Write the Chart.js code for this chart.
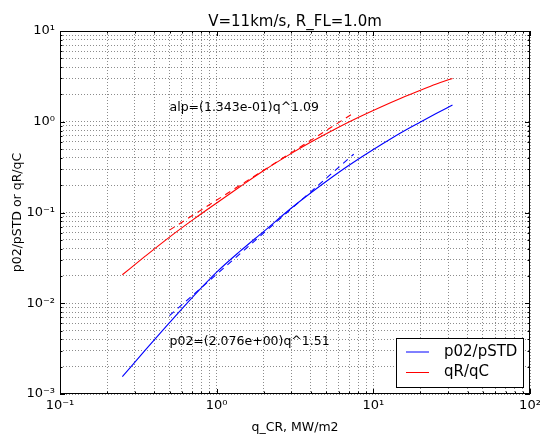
<!DOCTYPE html>
<html>
<head>
<meta charset="utf-8">
<script src="https://cdn.jsdelivr.net/npm/chart.js@4.4.0/dist/chart.umd.min.js"></script>
<style>
  html, body { margin: 0; padding: 0; background: #fff; }
</style>
</head>
<body>
<canvas id="chart" width="540" height="437"></canvas>
<script>
// values (log-log)
const qCurve   = [0.25, 0.35, 0.5, 0.7, 1.0, 1.4, 2.0, 3.0, 4.0, 6.0, 8.0, 11, 15, 20, 25, 32];
const p02Curve = [0.00155, 0.00304, 0.0061, 0.0116, 0.022, 0.037, 0.062, 0.112, 0.165, 0.276, 0.386, 0.547, 0.758, 0.996, 1.226, 1.53];
const qrCurve  = [0.0206, 0.033, 0.0536, 0.0824, 0.1274, 0.1907, 0.29, 0.448, 0.597, 0.87, 1.114, 1.437, 1.814, 2.224, 2.59, 3.0];

// power-law fits (dashed)
const qFit   = [0.5, 7.5];
const p02Fit = [0.0073, 0.44];
const qrFit  = [0.064, 1.25];

const chartTitle = 'V=11km/s, R_FL=1.0m';
const xTitle = 'q_CR, MW/m2';
const yTitle = 'p02/pSTD or qR/qC';
const alpNote = 'alp=(1.343e-01)q^1.09';
const p02Note = 'p02=(2.076e+00)q^1.51';

const xDecades = [0.1, 1, 10, 100];
const xTickLabels = ['10\u207B\u00B9', '10\u2070', '10\u00B9', '10\u00B2'];
const yDecades = [0.001, 0.01, 0.1, 1, 10];
const yTickLabels = ['10\u207B\u00B3', '10\u207B\u00B2', '10\u207B\u00B9', '10\u2070', '10\u00B9'];

const FONT = '"DejaVu Sans", sans-serif';

// decade ticks plus the 2..9 minor ones in between
function withMinor(decades) {
    const out = [];
    decades.forEach((d, i) => {
        out.push(d);
        if (i < decades.length - 1) {
            for (let k = 2; k <= 9; k++) out.push(+(d * k).toPrecision(3));
        }
    });
    return out;
}
const xTicks = withMinor(xDecades);
const yTicks = withMinor(yDecades);

function labelFor(v, decades, labels) {
    const i = decades.findIndex(d => Math.abs(d - v) / d < 1e-6);
    return i >= 0 ? labels[i] : '';
}

const pts = (xs, ys) => xs.map((x, i) => ({ x: x, y: ys[i] }));

// frame, inward ticks, titles, notes and legend (matplotlib look)
const decorations = {
    id: 'decorations',
    afterDraw(chart) {
        const { ctx, chartArea: a, scales } = chart;
        const x = scales.x, y = scales.y;
        ctx.save();

        ctx.strokeStyle = '#000';
        ctx.lineWidth = 1;
        ctx.beginPath();
        xTicks.forEach(v => {
            const px = Math.round(x.getPixelForValue(v)) + 0.5;
            const len = xDecades.includes(v) ? 5 : 2.5;
            ctx.moveTo(px, a.bottom); ctx.lineTo(px, a.bottom - len);
            ctx.moveTo(px, a.top); ctx.lineTo(px, a.top + len);
        });
        yTicks.forEach(v => {
            const py = Math.round(y.getPixelForValue(v)) + 0.5;
            const len = yDecades.includes(v) ? 5 : 2.5;
            ctx.moveTo(a.left, py); ctx.lineTo(a.left + len, py);
            ctx.moveTo(a.right, py); ctx.lineTo(a.right - len, py);
        });
        ctx.stroke();
        ctx.strokeRect(Math.round(a.left) + 0.5, Math.round(a.top) + 0.5,
                       Math.round(a.right - a.left) - 1, Math.round(a.bottom - a.top) - 1);

        ctx.fillStyle = '#000';
        ctx.textAlign = 'center';
        ctx.textBaseline = 'alphabetic';
        ctx.font = '15px ' + FONT;
        ctx.fillText(chartTitle, (a.left + a.right) / 2, 26);
        ctx.font = '12.5px ' + FONT;
        ctx.fillText(xTitle, (a.left + a.right) / 2, 431);

        ctx.save();
        ctx.translate(21, (a.top + a.bottom) / 2);
        ctx.rotate(-Math.PI / 2);
        ctx.fillText(yTitle, 0, 0);
        ctx.restore();

        ctx.textAlign = 'left';
        ctx.fillText(alpNote, x.getPixelForValue(0.5), y.getPixelForValue(1.3));
        ctx.fillText(p02Note, x.getPixelForValue(0.5), y.getPixelForValue(0.0035));

        // legend box, bottom right
        const items = chart.data.datasets.filter(d => !d.borderDash);
        const bx = 396, by = 338, bw = 127, bh = 49;
        ctx.fillStyle = '#fff';
        ctx.fillRect(bx, by, bw, bh);
        ctx.strokeStyle = '#000';
        ctx.strokeRect(bx + 0.5, by + 0.5, bw, bh);
        ctx.font = '15px ' + FONT;
        ctx.textBaseline = 'middle';
        items.forEach((d, i) => {
            const ly = by + 14 + i * 20.5;
            ctx.strokeStyle = d.borderColor;
            ctx.beginPath();
            ctx.moveTo(bx + 10, ly); ctx.lineTo(bx + 33, ly);
            ctx.stroke();
            ctx.fillStyle = '#000';
            ctx.fillText(d.label, bx + 48, ly);
        });
        ctx.restore();
    }
};

const lineStyle = { borderWidth: 1.1, pointRadius: 0, fill: false, cubicInterpolationMode: 'monotone' };

const gridStyle = { color: 'rgba(0,0,0,0.45)', lineWidth: 1, drawTicks: false };
const tickStyle = { color: '#000', font: { family: FONT, size: 13 }, autoSkip: false, maxRotation: 0 };

new Chart(document.getElementById('chart'), {
    type: 'line',
    data: {
        datasets: [
            Object.assign({ label: 'p02/pSTD', data: pts(qCurve, p02Curve), borderColor: '#0000ff' }, lineStyle),
            Object.assign({ label: 'qR/qC', data: pts(qCurve, qrCurve), borderColor: '#ff0000' }, lineStyle),
            Object.assign({ label: 'p02 fit', data: pts(qFit, p02Fit), borderColor: '#0000ff', borderDash: [6, 5] }, lineStyle),
            Object.assign({ label: 'qR fit', data: pts(qFit, qrFit), borderColor: '#ff0000', borderDash: [6, 5] }, lineStyle)
        ]
    },
    options: {
        responsive: false,
        animation: false,
        layout: { padding: { top: 31, right: 10, bottom: 0, left: 0 } },
        plugins: { legend: { display: false }, tooltip: { enabled: false } },
        scales: {
            x: {
                type: 'logarithmic', min: 0.1, max: 100,
                afterBuildTicks: s => { s.ticks = xTicks.map(v => ({ value: v })); },
                afterFit: s => { s.height = 43; s.paddingLeft = 0; s.paddingRight = 0; },
                ticks: Object.assign({ padding: 4, callback: v => labelFor(v, xDecades, xTickLabels) }, tickStyle),
                grid: gridStyle,
                border: { display: false, dash: [1, 2] }
            },
            y: {
                type: 'logarithmic', min: 0.001, max: 10,
                afterBuildTicks: s => { s.ticks = yTicks.map(v => ({ value: v })); },
                afterFit: s => { s.width = 60; s.paddingTop = 0; s.paddingBottom = 0; },
                ticks: Object.assign({ padding: 5, callback: v => labelFor(v, yDecades, yTickLabels) }, tickStyle),
                grid: gridStyle,
                border: { display: false, dash: [1, 2] }
            }
        }
    },
    plugins: [decorations]
});
</script>
</body>
</html>
